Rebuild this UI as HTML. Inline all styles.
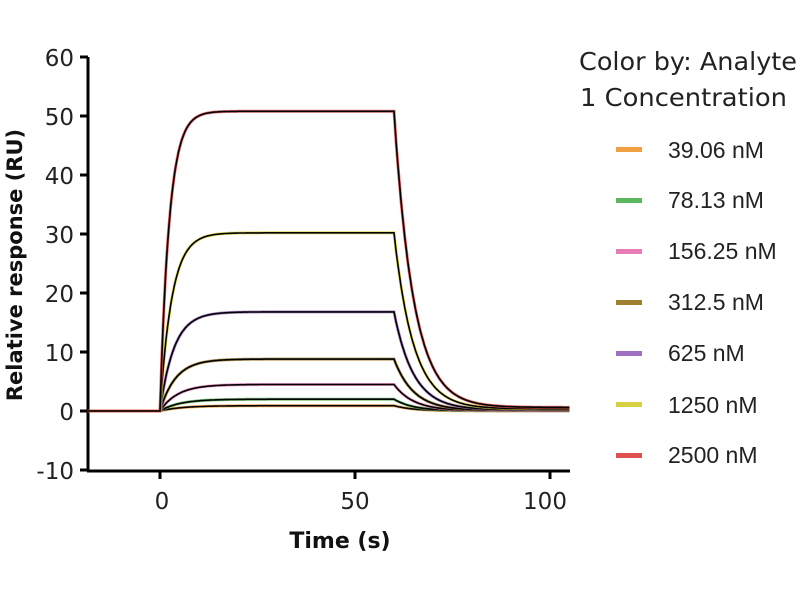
<!DOCTYPE html>
<html><head><meta charset="utf-8"><style>
body{margin:0;background:#fff;width:800px;height:600px;overflow:hidden}
text{font-family:"DejaVu Sans","Liberation Sans",sans-serif}
text.lib{font-family:"Liberation Sans",Arial,sans-serif}
</style></head><body>
<svg id="s" width="800" height="600" xmlns="http://www.w3.org/2000/svg">
<g stroke="#000" stroke-width="3" fill="none">
<line x1="88" y1="57" x2="88" y2="471"/>
<line x1="87" y1="471" x2="570" y2="471"/>
<line x1="80" y1="57" x2="88" y2="57"/><line x1="80" y1="116" x2="88" y2="116"/>
<line x1="80" y1="175" x2="88" y2="175"/><line x1="80" y1="234" x2="88" y2="234"/>
<line x1="80" y1="293" x2="88" y2="293"/><line x1="80" y1="352" x2="88" y2="352"/>
<line x1="80" y1="411" x2="88" y2="411"/><line x1="80" y1="470" x2="88" y2="470"/>
<line x1="160" y1="471" x2="160" y2="479"/><line x1="355" y1="471" x2="355" y2="479"/><line x1="550" y1="471" x2="550" y2="479"/>
</g>
<g font-size="23" fill="#222" text-anchor="end">
<text x="74" y="66">60</text><text x="74" y="125">50</text><text x="74" y="184">40</text>
<text x="74" y="243">30</text><text x="74" y="302">20</text><text x="74" y="361">10</text>
<text x="74" y="420">0</text><text x="74" y="479">-10</text>
</g>
<g font-size="23" fill="#222" text-anchor="middle">
<text x="162" y="509">0</text><text x="355" y="509">50</text><text x="545" y="509">100</text>
</g>
<text x="340" y="548" font-size="22" font-weight="bold" text-anchor="middle" fill="#111">Time (s)</text>
<text transform="translate(22,265) rotate(-90)" font-size="21" font-weight="bold" text-anchor="middle" fill="#111">Relative response (RU)</text>
<g id="curves"></g>
<g fill="#222">
<text x="579" y="70" font-size="25" textLength="218" lengthAdjust="spacingAndGlyphs">Color by: Analyte</text>
<text x="580" y="106" font-size="25" textLength="207" lengthAdjust="spacingAndGlyphs">1 Concentration</text>
<g font-size="23">
<text class="lib" x="668" y="158">39.06 nM</text><text class="lib" x="668" y="208">78.13 nM</text>
<text class="lib" x="668" y="259">156.25 nM</text><text class="lib" x="668" y="310">312.5 nM</text>
<text class="lib" x="668" y="361">625 nM</text><text class="lib" x="668" y="413">1250 nM</text>
<text class="lib" x="668" y="463">2500 nM</text>
</g>
<rect x="616" y="147" width="26" height="5" fill="#f0a040"/>
<rect x="616" y="198" width="26" height="5" fill="#5cb85c"/>
<rect x="616" y="249" width="26" height="5" fill="#e87cb8"/>
<rect x="616" y="300" width="26" height="5" fill="#a08030"/>
<rect x="616" y="351" width="26" height="5" fill="#a070c0"/>
<rect x="616" y="402" width="26" height="5" fill="#d8d040"/>
<rect x="616" y="453" width="26" height="5" fill="#e05050"/>
</g>
</svg>
<script>
var X=function(t){return 160+t*3.9},Y=function(v){return 411-v*5.9};
var series=[[0.9,0.18,'#f0a040'],[2,0.2,'#5cb85c'],[4.5,0.22,'#e87cb8'],[8.8,0.25,'#a08030'],[16.8,0.28,'#a070c0'],[30.2,0.33,'#d8d040'],[50.8,0.42,'#e05050']];
var kd=0.2,out='';
series.forEach(function(s){
 var R=s[0],k=s[1],p='';
 for(var t=-18.5;t<=105;t+=0.25){
  var v;
  if(t<0)v=0;else if(t<=60)v=R*(1-Math.exp(-k*t));else{var r60=R*(1-Math.exp(-k*60));v=r60*Math.exp(-kd*(t-60))+R*0.012*(1-Math.exp(-(t-60)/5));}
  p+=(p?'L':'M')+X(t).toFixed(1)+','+Y(v).toFixed(1);
 }
 out+='<path d="'+p+'" fill="none" stroke="'+s[2]+'" stroke-width="3" opacity="0.8"/>';
 out+='<path d="'+p+'" fill="none" stroke="#000" stroke-width="1.6"/>';
});
document.getElementById('curves').innerHTML=out;
</script>
</body></html>
